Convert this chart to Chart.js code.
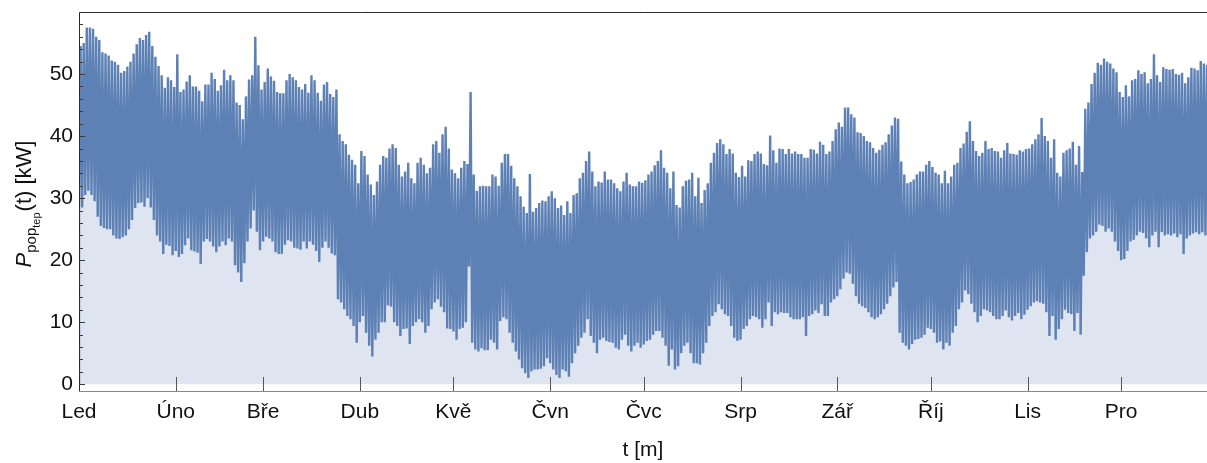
<!DOCTYPE html>
<html>
<head>
<meta charset="utf-8">
<script src="https://cdn.jsdelivr.net/npm/chart.js@4.4.1/dist/chart.umd.min.js"></script>
<style>
  html, body { margin: 0; padding: 0; background: #ffffff; }
  #wrap { width: 1207px; height: 463px; }
</style>
</head>
<body>
<div id="wrap"><canvas id="c" width="1207" height="463"></canvas></div>
<script>
// Month labels and the day of year on which each month starts
const monthLabels = ['Led', 'Úno', 'Bře', 'Dub', 'Kvě', 'Čvn', 'Čvc', 'Srp', 'Zář', 'Říj', 'Lis', 'Pro'];
const monthStarts = [0, 31, 59, 90, 120, 151, 181, 212, 243, 273, 304, 334];
const yTickValues = [0, 10, 20, 30, 40, 50];

// Power at the very first sample [kW]
const startValue = 0;

// Daily peak of the heat load [kW], one value per day
const dailyHigh = [
  54.5, 55, 57.5, 57.5, 57.3, 56, 55.5, 53.5, 53.3, 53, 52.2, 52, 51.5, 50.2, 50.5, 51.2, 52, 53.3, 54.8, 55.8,
  55.5, 56.3, 56.8, 54.5, 52.8, 51.3, 49.8, 47.8, 49.5, 49, 47.9, 53.2, 47.1,
  47.5, 48.8, 49.8, 48, 48, 47.3, 45.6, 48.3, 48.3, 50.2, 49.2, 47.3, 48.2, 50.7, 49, 49.8, 49, 45.4, 45, 42.7,
  46.4, 49.1, 49.8, 56, 51.4, 47.5, 48.7, 50.9, 49.6, 48.9, 47.1, 46.9, 46.9,
  49, 50, 49.5, 49, 47.9, 47.5, 48.4, 47, 49.8, 49, 47, 45.7, 48.3, 48.7, 46.8, 46.3, 47.5, 40.3, 39.2, 38.7,
  37, 36.2, 35.4, 32.4, 37.6, 36.8, 33.8, 32.2, 30.5, 32.7, 35.4, 36.8, 36.5,
  38, 38.7, 38.1, 35.4, 33.5, 34.3, 35.7, 33.2, 32.4, 35.7, 36.5, 35.4, 34, 34.9, 38.7, 39.2, 37.3, 40.3, 41.5, 38,
  34.6, 34, 33.2, 34.9, 36, 35.5, 47.1, 33.8, 31.2, 31.9, 32, 31.9, 31.9,
  33.8, 33.5, 32, 35.7, 37.1, 37.1, 35.2, 33.2, 31.9, 30.3, 28.6, 27.6, 33.9, 27.8, 28.4, 29.2, 29.6, 29.5, 30.3, 31.1,
  30, 28.4, 28.8, 27.3, 29.5, 27.6, 30.5, 30.8, 33.2, 34.1, 36, 37.5, 34.3,
  31.9, 32.7, 32.5, 34.3, 33, 33, 32.4, 31.6, 31.1, 32.7, 34.1, 32.2, 31.9, 31.9, 32.7, 32.5, 32.9, 33.8, 34.3, 35.3,
  36, 37.7, 34.9, 34.1, 31.6, 34.3, 28.9, 28.5, 31.9, 32.8, 33, 34.1, 30.3,
  33.3, 29.2, 31.3, 32.4, 35.7, 37.3, 38.9, 39.5, 38.7, 37.1, 37.9, 37.2, 34.1, 33.4, 35.2, 33.5, 36.1, 36, 37.1, 37.5,
  37.2, 35.5, 35.3, 40.1, 37.7, 35.7, 38, 37.9, 37.1, 37.9, 37.2, 37.5, 37.1,
  37.1, 36.5, 36.5, 37.9, 37.8, 37.2, 39.1, 38.6, 37.1, 37.5, 39.2, 41.1, 42.2, 41.5, 44.6, 44.6, 43.5, 43, 40.6, 40.5,
  40, 39.2, 39, 38.1, 37.3, 37.8, 38.6, 39, 40.3, 41.7, 43, 42.8, 35.9,
  33.8, 32.4, 32.6, 33, 33.8, 34.3, 34.3, 35.4, 36, 35, 34.1, 33.8, 32.4, 34.4, 32.4, 33.5, 35.4, 35.7, 38.1, 38.8,
  40.7, 42.4, 39.2, 37.6, 36.8, 37.3, 39.2, 37.9, 38.1, 37.6, 37.5, 36.5, 37.7,
  38.9, 37.2, 37.1, 37, 37.7, 37.5, 37.9, 38, 38.7, 39.5, 40.3, 42.9, 40, 39.2, 36.5, 39.5, 34.1, 33.5, 37.3, 37.7,
  38, 39.1, 35.4, 38.4, 34.2, 44.4, 45.4, 48.4, 50.2, 51.8, 51.5, 52.5, 52,
  51.7, 50.9, 50.3, 47.1, 46.3, 48.2, 46.4, 49, 49.2, 50.6, 50, 50.3, 48.5, 49.2, 53.2, 49.8, 48.7, 51.1, 50.8, 50.7,
  50.8, 50, 49.9, 50.2, 48.5, 49.5, 51, 50.9, 50.6, 52.1, 51.7, 51.5
];

// Daily minimum of the heat load [kW], one value per day
const dailyLow = [
  28.5, 28.5, 30.5, 31.2, 30.5, 29.5, 27, 25.5, 25.2, 25, 25, 24, 23.5, 23.4, 23.7, 24, 25, 26.5, 28.4, 29.2,
  29.3, 28.6, 30, 28.5, 26.5, 24, 23, 21, 22.5, 22.3, 20.8, 21.5, 20.5,
  21, 22.4, 23.5, 21.6, 21.4, 21.2, 19.4, 23, 23.4, 23, 22.2, 21.3, 22.2, 23, 22.4, 23.5, 23, 19.2, 18, 16.5,
  19.5, 23, 25.1, 28, 24.6, 21.6, 23, 23.8, 23.5, 23, 21.3, 21, 21,
  22.5, 23.2, 23, 22, 21.9, 21.7, 23, 21.9, 23, 22.5, 21.5, 19.7, 22, 23, 22, 21.1, 20.8, 13.7, 13.2, 12.1,
  11, 10.5, 9.4, 6.7, 10, 11, 8.3, 6.2, 4.5, 7.2, 8.3, 10, 10,
  12.7, 12.5, 10, 9.4, 7.8, 8.9, 9, 6.5, 9.4, 10, 10.5, 10, 8.3, 9.4, 12.1, 13.2, 13.7, 12.5, 11.6, 9,
  8.9, 8.5, 7.2, 8.9, 9.1, 10, 19, 6.7, 5.6, 5.3, 5.8, 5.5, 5.5,
  7.2, 6.7, 5.6, 10.2, 10.8, 10.5, 8.3, 6.7, 5.3, 4, 2.6, 1.8, 1, 2.1, 2.4, 2.4, 2.5, 2.9, 4.2, 3.4,
  2.4, 1.5, 1, 2.4, 2.1, 1.2, 3.4, 5, 6.2, 7.5, 8.3, 10.5, 7.8,
  6.7, 5, 7.2, 7.5, 7, 6.8, 6.7, 5.9, 5.6, 7.2, 8, 6.2, 5.3, 6.2, 6.7, 5.9, 6.4, 7, 7.2, 8,
  8.6, 8.6, 7.5, 6.2, 3, 5.6, 2.4, 2.9, 5, 6.2, 6.7, 5, 3.4,
  3.4, 3.2, 5, 6.7, 9.4, 11, 11.6, 12.9, 12.1, 11.3, 11, 9.4, 7.5, 7, 7.2, 8.9, 9.4, 10.5, 11, 10.8,
  10.5, 9.1, 10.5, 13.2, 9.4, 11.6, 11.3, 11.6, 11.5, 11.5, 10.8, 10.5, 10.5,
  10.5, 10.8, 7.8, 11, 11.3, 11.9, 11.5, 12.9, 11, 11, 13.2, 13.7, 14.2, 15.3, 17, 18, 17.8, 16.2, 14.2, 13,
  12.6, 12.3, 11.6, 10.8, 10.5, 10.8, 11.3, 12.1, 13, 14.2, 15.6, 16.5, 8.3,
  6.7, 6.2, 5.6, 6.5, 7.2, 7.3, 7.5, 8, 9.1, 8.9, 8.3, 6.7, 6.9, 5.6, 6.7, 6.2, 8.3, 9.4, 12.1, 13.2,
  15.1, 14.5, 13, 11.6, 10, 11, 12.1, 11.9, 11.6, 11, 10.5, 10.5, 11,
  11.9, 10.8, 10.3, 11, 11.5, 10.5, 11.2, 12, 12.6, 13.2, 13.4, 13.2, 13, 11.6, 7.8, 11, 7.2, 8.9, 10.5, 12,
  11.5, 11.3, 8.6, 11.5, 8, 17.5, 21.3, 23.5, 24, 24.6, 25.7, 25.5, 24.6,
  25.1, 24.6, 23, 21.5, 20, 20.2, 21.5, 23, 23.3, 24, 24.6, 24.4, 23.5, 22.1, 24, 24.6, 22.1, 24.5, 24, 24.2,
  24, 24.3, 23.7, 24.2, 21, 23.5, 24, 24.3, 24.5, 24.2, 24.5, 24
];

// Line points: each day climbs from its minimum to its peak
const points = [{ x: 0, y: startValue }];
dailyLow.forEach((lo, d) => {
  points.push({ x: d, y: lo });
  points.push({ x: d + 0.5, y: dailyHigh[d] });
});

const FONT = "'Liberation Sans', Arial, sans-serif";
const LINE_COLOR = '#5e81b5';
const FILL_COLOR = '#dfe5f0';

// Frame, inward tick marks and the y-axis title with nested subscripts
const framePlugin = {
  id: 'frame',
  afterDatasetsDraw(chart) {
    const { ctx, chartArea: a, scales: { x, y } } = chart;
    ctx.save();
    ctx.lineWidth = 1;

    // top and left frame lines
    ctx.strokeStyle = '#2a2a2a';
    ctx.beginPath();
    ctx.moveTo(a.left + 0.5, a.bottom + 0.5);
    ctx.lineTo(a.left + 0.5, a.top + 0.5);
    ctx.lineTo(a.right, a.top + 0.5);
    ctx.stroke();

    // bottom frame line
    ctx.strokeStyle = '#8a8a8a';
    ctx.beginPath();
    ctx.moveTo(a.left, a.bottom + 0.5);
    ctx.lineTo(a.right, a.bottom + 0.5);
    ctx.stroke();

    // month ticks pointing up from the bottom frame
    ctx.strokeStyle = '#555555';
    x.ticks.forEach(t => {
      const px = Math.round(x.getPixelForValue(t.value)) + 0.5;
      if (px <= a.left + 1) return;
      ctx.beginPath();
      ctx.moveTo(px, a.bottom);
      ctx.lineTo(px, a.bottom - 14);
      ctx.stroke();
    });

    // major and minor ticks on the left frame
    ctx.strokeStyle = '#3a3a3a';
    for (let v = 0; v < y.max; v += 2) {
      const py = Math.round(y.getPixelForValue(v)) + 0.5;
      const len = v % 10 === 0 ? 6 : 4;
      ctx.beginPath();
      ctx.moveTo(a.left, py);
      ctx.lineTo(a.left + len, py);
      ctx.stroke();
    }

    // y-axis title: P_{pop_{tep}}(t) [kW]
    const parts = [
      { text: 'P', font: `italic 22px ${FONT}`, dy: 0, gap: 0 },
      { text: 'pop', font: `15px ${FONT}`, dy: 5, gap: 0 },
      { text: 'tep', font: `11px ${FONT}`, dy: 9, gap: 1 },
      { text: '(t) [kW]', font: `22px ${FONT}`, dy: 0, gap: 0 }
    ];
    let total = 0;
    parts.forEach(p => { ctx.font = p.font; p.w = ctx.measureText(p.text).width; total += p.w + p.gap; });
    ctx.translate(31, 204);
    ctx.rotate(-Math.PI / 2);
    ctx.fillStyle = '#111111';
    ctx.textBaseline = 'alphabetic';
    ctx.textAlign = 'left';
    let cx = -total / 2;
    parts.forEach(p => {
      ctx.font = p.font;
      ctx.fillText(p.text, cx, p.dy);
      cx += p.w + p.gap;
    });
    ctx.restore();
  }
};

new Chart(document.getElementById('c'), {
  type: 'line',
  data: {
    datasets: [{
      data: points,
      borderColor: LINE_COLOR,
      backgroundColor: FILL_COLOR,
      borderWidth: 2.4,
      borderJoinStyle: 'bevel',
      pointRadius: 0,
      tension: 0,
      fill: 'origin'
    }]
  },
  options: {
    responsive: false,
    animation: false,
    devicePixelRatio: 1,
    layout: { padding: { top: 12, right: 0, bottom: 0, left: 0 } },
    plugins: { legend: { display: false }, tooltip: { enabled: false } },
    scales: {
      x: {
        type: 'linear',
        min: 0,
        max: 361.5,
        afterBuildTicks: s => { s.ticks = monthStarts.map(v => ({ value: v })); },
        afterFit: s => { s.height = 72; s.paddingLeft = 0; s.paddingRight = 0; },
        grid: { display: false, drawTicks: false },
        border: { display: false },
        ticks: {
          autoSkip: false,
          maxRotation: 0,
          padding: 9,
          color: '#111111',
          font: { family: FONT, size: 21 },
          callback: (v, i) => monthLabels[i]
        },
        title: {
          display: true,
          text: 't [m]',
          color: '#111111',
          font: { family: FONT, size: 21 },
          padding: { top: 0, bottom: 0 }
        }
      },
      y: {
        min: -1.08,
        max: 60,
        afterBuildTicks: s => { s.ticks = yTickValues.map(v => ({ value: v })); },
        afterFit: s => { s.width = 79; s.paddingTop = 0; s.paddingBottom = 0; },
        grid: { display: false, drawTicks: false },
        border: { display: false },
        ticks: {
          padding: 6,
          color: '#111111',
          font: { family: FONT, size: 21 },
          callback: v => String(v)
        }
      }
    }
  },
  plugins: [framePlugin]
});
</script>
</body>
</html>
